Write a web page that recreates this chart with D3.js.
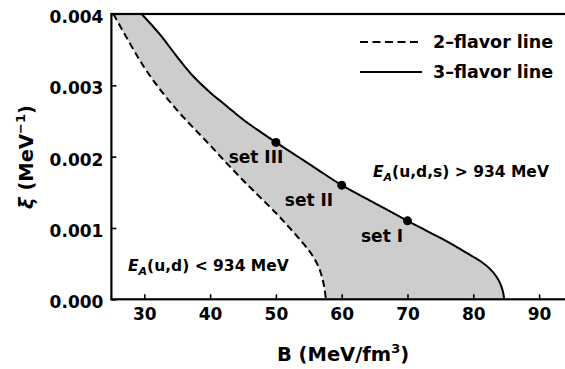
<!DOCTYPE html>
<html><head><meta charset="utf-8">
<script src="https://cdn.jsdelivr.net/npm/d3@7"></script>
<style>body{margin:0;background:#fff}svg{display:block}text{font-family:"DejaVu Sans";font-weight:bold;fill:#000}</style>
</head><body><svg id="c" width="565" height="369"></svg>
<script>
// 3-flavor line (B in MeV/fm^3, xi in MeV^-1)
const flavor3B  = [29.6, 32.4, 34.9, 37.4, 40.0, 42.5, 45.0, 47.6, 50.0, 53.0, 56.0, 60.0, 65.0, 70.0, 72.5, 75.0, 77.0, 79.0, 81.0, 82.5, 83.5, 84.1, 84.5, 84.7];
const flavor3Xi = [0.00400, 0.00371, 0.00341, 0.00313, 0.00290, 0.00271, 0.00252, 0.00235, 0.00220, 0.00202, 0.00184, 0.00160, 0.00135, 0.00110, 0.00098, 0.00086, 0.00076, 0.00065, 0.00054, 0.00043, 0.00032, 0.00022, 0.00011, 0.0];
// 2-flavor line
const flavor2B  = [25.3, 27.8, 30.0, 32.5, 35.0, 37.5, 40.0, 42.5, 45.0, 47.5, 50.0, 52.0, 54.0, 55.5, 56.5, 57.1, 57.4, 57.6];
const flavor2Xi = [0.00400, 0.00359, 0.00325, 0.00293, 0.00265, 0.00240, 0.00216, 0.00191, 0.00167, 0.00144, 0.00121, 0.00101, 0.00080, 0.00062, 0.00045, 0.00028, 0.00014, 0.0];
// parameter sets
const setNames = ["set I", "set II", "set III"];
const setB  = [70, 60, 50];
const setXi = [0.0011, 0.0016, 0.0022];
// ticks
const xTicks = [30, 40, 50, 60, 70, 80, 90];
const yTicks = [0.000, 0.001, 0.002, 0.003, 0.004];

const svg = d3.select("#c");
const L = 111.4, R = 572, T = 14, B = 299.3;
const x = d3.scaleLinear().domain([25, 95]).range([L, R]);
const y = d3.scaleLinear().domain([0, 0.004]).range([B, T]);

const pts3 = flavor3B.map((b,i)=>[b, flavor3Xi[i]]);
const pts2 = flavor2B.map((b,i)=>[b, flavor2Xi[i]]);
const line = d3.line().x(d=>x(d[0])).y(d=>y(d[1])).curve(d3.curveCatmullRom.alpha(0.5));

// shaded region: under 3-flavor minus under 2-flavor
svg.append("path").attr("d", "M"+x(25)+","+y(0.004)+"L"+line(pts3).slice(1)+"L"+x(25)+","+y(0)+"Z").attr("fill","#cdcdcd");
svg.append("path").attr("d", "M"+x(25)+","+y(0.004)+"L"+line(pts2).slice(1)+"L"+x(25)+","+y(0)+"Z").attr("fill","#fff");

svg.append("path").attr("d", line(pts2)).attr("fill","none").attr("stroke","#000").attr("stroke-width",2).attr("stroke-dasharray","7,4");
svg.append("path").attr("d", line(pts3)).attr("fill","none").attr("stroke","#000").attr("stroke-width",2);

// markers
svg.selectAll("circle.s").data(setB).enter().append("circle")
  .attr("cx",(d)=>x(d)).attr("cy",(d,i)=>y(setXi[i])).attr("r",4.5).attr("fill","#000");

// axes
const xa = d3.axisBottom(x).tickValues(xTicks).tickSize(-5).tickPadding(9).tickFormat(d3.format("d"));
const ya = d3.axisLeft(y).tickValues(yTicks).tickSize(-5).tickPadding(8).tickFormat(d3.format(".3f"));
const gx = svg.append("g").attr("transform",`translate(0,${B})`).call(xa);
const gy = svg.append("g").attr("transform",`translate(${L},0)`).call(ya);
[gx,gy].forEach(g=>{
  g.select(".domain").remove();
  g.selectAll(".tick line").attr("stroke","#000").attr("stroke-width",1.6);
  g.selectAll(".tick text").style("font-family","DejaVu Sans").style("font-weight","bold").style("font-size","17px").attr("fill","#000");
});
gy.selectAll(".tick text").attr("dy","0.5em");
// frame
svg.append("rect").attr("x",L).attr("y",T).attr("width",R-L).attr("height",B-T).attr("fill","none").attr("stroke","#000").attr("stroke-width",2.2);

// axis labels
const xl = svg.append("text").attr("x",343).attr("y",361).attr("text-anchor","middle").style("font-size","19.5px");
xl.append("tspan").text("B (MeV/fm");
xl.append("tspan").attr("dy",-8).style("font-size","13px").text("3");
xl.append("tspan").attr("dy",8).text(")");
const yl = svg.append("text").attr("transform","translate(33,157) rotate(-90)").attr("text-anchor","middle").style("font-size","19.5px");
yl.append("tspan").style("font-style","italic").text("ξ");
yl.append("tspan").text(" (MeV");
yl.append("tspan").attr("dy",-8).style("font-size","13px").text("−1");
yl.append("tspan").attr("dy",8).text(")");

// set labels
const setLabelPos = [[382,242],[309,206],[256,163]];
setNames.forEach((n,i)=>{
  svg.append("text").attr("x",setLabelPos[i][0]).attr("y",setLabelPos[i][1]).attr("text-anchor","middle").style("font-size","17px").text(n);
});

// region labels
function eaLabel(xp, yp, inner, rest){
  const t = svg.append("text").attr("x",xp).attr("y",yp).style("font-size","15.5px");
  t.append("tspan").style("font-style","italic").text("E");
  t.append("tspan").attr("dy",4).style("font-style","italic").style("font-size","11px").text("A");
  t.append("tspan").attr("dy",-4).text(inner+rest);
}
eaLabel(373,177,"(u,d,s)"," > 934 MeV");
eaLabel(128,271,"(u,d)"," < 934 MeV");

// legend
const lg = svg.append("g");
lg.append("line").attr("x1",360).attr("x2",420).attr("y1",42).attr("y2",42).attr("stroke","#000").attr("stroke-width",2).attr("stroke-dasharray","8,4.5");
lg.append("line").attr("x1",360).attr("x2",422).attr("y1",72).attr("y2",72).attr("stroke","#000").attr("stroke-width",2);
lg.append("text").attr("x",433).attr("y",48).style("font-size","17.5px").text("2–flavor line");
lg.append("text").attr("x",433).attr("y",78).style("font-size","17.5px").text("3–flavor line");
</script></body></html>
